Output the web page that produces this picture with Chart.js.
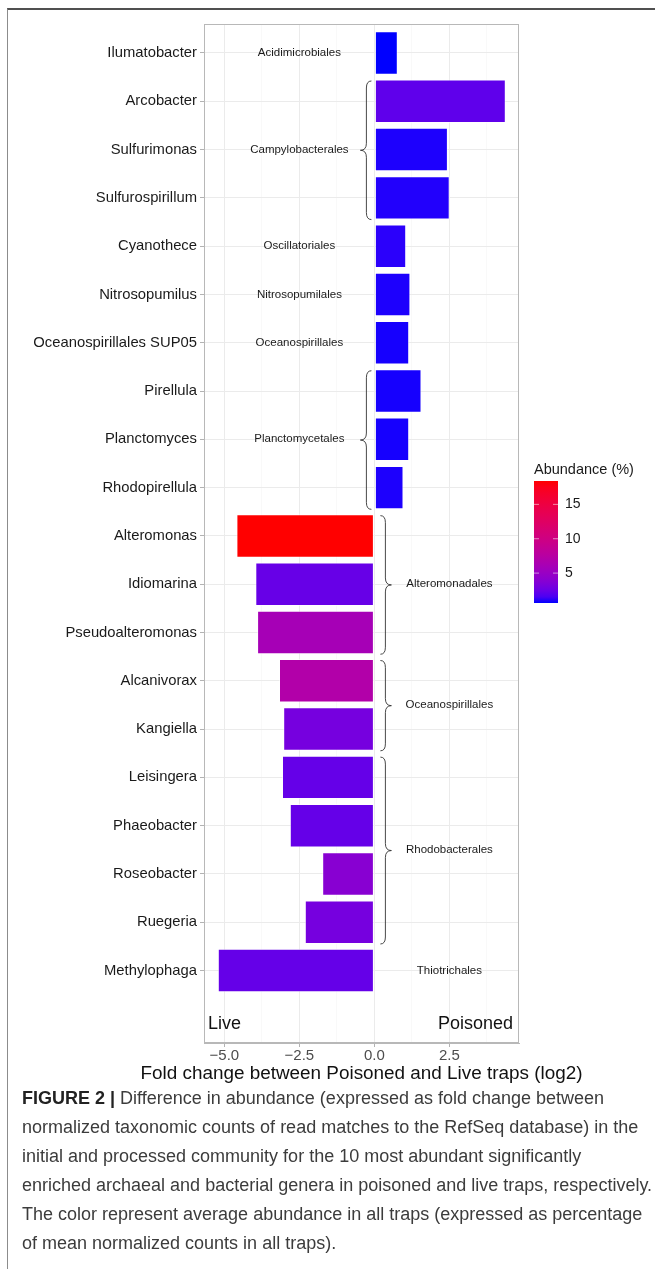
<!DOCTYPE html>
<html>
<head>
<meta charset="utf-8">
<script src="https://cdn.jsdelivr.net/npm/chart.js@4.4.1/dist/chart.umd.min.js"></script>
<style>
  html, body { margin: 0; padding: 0; background: #fff; }
  body { width: 655px; height: 1269px; position: relative; overflow: hidden; font-family: 'Liberation Sans', Arial, sans-serif; }
  #frame { position: absolute; left: 7px; top: 8px; width: 660px; height: 1280px; border-top: 2px solid #505050; border-left: 1.5px solid #8c8c8c; }
  #chart { position: absolute; left: 0; top: 0; }
  #caption { position: absolute; left: 22px; top: 1084px; font-size: 18px; line-height: 29px; color: #3c3c3c; white-space: nowrap; }
  #caption b { color: #222; }
</style>
</head>
<body>
<div id="frame"></div>
<canvas id="chart" width="655" height="1090"></canvas>
<div id="caption">
  <b>FIGURE 2 |</b> Difference in abundance (expressed as fold change between<br>
  normalized taxonomic counts of read matches to the RefSeq database) in the<br>
  initial and processed community for the 10 most abundant significantly<br>
  enriched archaeal and bacterial genera in poisoned and live traps, respectively.<br>
  The color represent average abundance in all traps (expressed as percentage<br>
  of mean normalized counts in all traps).
</div>
<script>
// genera, top to bottom
const genera = [
  'Ilumatobacter', 'Arcobacter', 'Sulfurimonas', 'Sulfurospirillum', 'Cyanothece',
  'Nitrosopumilus', 'Oceanospirillales SUP05', 'Pirellula', 'Planctomyces', 'Rhodopirellula',
  'Alteromonas', 'Idiomarina', 'Pseudoalteromonas', 'Alcanivorax', 'Kangiella',
  'Leisingera', 'Phaeobacter', 'Roseobacter', 'Ruegeria', 'Methylophaga'
];
// log2 fold change (poisoned vs live)
const foldChange = [
  0.78, 4.38, 2.45, 2.51, 1.06,
  1.20, 1.16, 1.57, 1.16, 0.97,
  -4.60, -3.97, -3.91, -3.18, -3.04,
  -3.08, -2.82, -1.74, -2.32, -5.22
];
// mean abundance (%)
const abundance = [
  0.65, 2.1, 0.8, 0.85, 0.95,
  0.8, 0.75, 0.75, 0.75, 0.8,
  18.4, 2.4, 6.0, 7.0, 3.0,
  2.3, 2.3, 3.9, 3.0, 2.3
];
// orders with first / last row (1-based)
const orderNames = ['Acidimicrobiales', 'Campylobacterales', 'Oscillatoriales', 'Nitrosopumilales',
  'Oceanospirillales', 'Planctomycetales', 'Alteromonadales', 'Oceanospirillales',
  'Rhodobacterales', 'Thiotrichales'];
const orderFirst = [1, 2, 5, 6, 7, 8, 11, 14, 16, 20];
const orderLast = [1, 4, 5, 6, 7, 10, 13, 15, 19, 20];
const xMajorTicks = [-5, -2.5, 0, 2.5];
const legendTicks = [5, 10, 15];

const FONT = "'Liberation Sans', Arial, sans-serif";
Chart.defaults.font.family = FONT;

// colour scale blue -> red interpolated in CIELAB (like ggplot)
function toLin(c) { c /= 255; return c <= 0.04045 ? c / 12.92 : Math.pow((c + 0.055) / 1.055, 2.4); }
function fromLin(c) { c = c <= 0.0031308 ? 12.92 * c : 1.055 * Math.pow(c, 1 / 2.4) - 0.055; return Math.round(Math.min(1, Math.max(0, c)) * 255); }
function rgbToLab(rgb) {
  const [r, g, b] = rgb.map(toLin);
  const X = (0.4124 * r + 0.3576 * g + 0.1805 * b) / 0.95047;
  const Y = 0.2126 * r + 0.7152 * g + 0.0722 * b;
  const Z = (0.0193 * r + 0.1192 * g + 0.9505 * b) / 1.08883;
  const f = t => t > 0.008856 ? Math.cbrt(t) : 7.787 * t + 16 / 116;
  const fx = f(X), fy = f(Y), fz = f(Z);
  return [116 * fy - 16, 500 * (fx - fy), 200 * (fy - fz)];
}
function labToRgb(lab) {
  const fy = (lab[0] + 16) / 116, fx = fy + lab[1] / 500, fz = fy - lab[2] / 200;
  const fi = t => t > 0.206893 ? t * t * t : (t - 16 / 116) / 7.787;
  const X = fi(fx) * 0.95047, Y = fi(fy), Z = fi(fz) * 1.08883;
  const r = 3.2406 * X - 1.5372 * Y - 0.4986 * Z;
  const g = -0.9689 * X + 1.8758 * Y + 0.0415 * Z;
  const b = 0.0557 * X - 0.2040 * Y + 1.0570 * Z;
  return [fromLin(r), fromLin(g), fromLin(b)];
}
const labLow = rgbToLab([0, 0, 255]);
const labHigh = rgbToLab([255, 0, 0]);
const aMin = Math.min(...abundance), aMax = Math.max(...abundance);
function fillFor(v) {
  const t = Math.min(1, Math.max(0, (v - aMin) / (aMax - aMin)));
  const lab = labLow.map((c, i) => c + (labHigh[i] - c) * t);
  const rgb = labToRgb(lab);
  return `rgb(${rgb[0]},${rgb[1]},${rgb[2]})`;
}

function brace(ctx, xTip, dir, y0, y1) {
  // dir = -1 tip points left, +1 tip points right
  const xEnd = xTip - dir * 11, xBody = xTip - dir * 6;
  const ym = (y0 + y1) / 2, r = 7;
  ctx.beginPath();
  ctx.moveTo(xEnd, y0);
  ctx.quadraticCurveTo(xBody, y0, xBody, y0 + r);
  ctx.lineTo(xBody, ym - r);
  ctx.quadraticCurveTo(xBody, ym, xTip, ym);
  ctx.quadraticCurveTo(xBody, ym, xBody, ym + r);
  ctx.lineTo(xBody, y1 - r);
  ctx.quadraticCurveTo(xBody, y1, xEnd, y1);
  ctx.stroke();
}

const decor = {
  id: 'decor',
  afterDraw(chart) {
    const { ctx, chartArea: a, scales: { x, y } } = chart;
    ctx.save();
    // panel border
    ctx.strokeStyle = '#b8b8b8';
    ctx.lineWidth = 1;
    ctx.strokeRect(a.left + 0.5, a.top + 0.5, a.right - a.left - 1, a.bottom - a.top - 1);

    // order labels and braces
    const x0 = x.getPixelForValue(0);
    ctx.fillStyle = '#1a1a1a';
    ctx.strokeStyle = '#333';
    ctx.lineWidth = 0.9;
    ctx.font = `11.5px ${FONT}`;
    ctx.textAlign = 'center';
    ctx.textBaseline = 'middle';
    orderNames.forEach((name, i) => {
      const f = orderFirst[i], l = orderLast[i];
      const positive = foldChange[f - 1] > 0;
      const ym = y.getPixelForValue((f + l) / 2);
      ctx.fillText(name, x.getPixelForValue(positive ? -2.5 : 2.5), ym);
      if (l > f) {
        const y0 = y.getPixelForValue(f - 0.42), y1 = y.getPixelForValue(l + 0.45);
        if (positive) brace(ctx, x0 - 14, -1, y0, y1);
        else brace(ctx, x0 + 17, 1, y0, y1);
      }
    });

    // Live / Poisoned
    ctx.font = `18px ${FONT}`;
    ctx.fillStyle = '#111';
    const yl = y.getPixelForValue(21.1);
    ctx.textAlign = 'left';
    ctx.fillText('Live', a.left + 4, yl);
    ctx.textAlign = 'right';
    ctx.fillText('Poisoned', a.right - 6, yl);

    // x axis title (wider than the panel, so drawn here)
    ctx.textAlign = 'center';
    ctx.font = `18.9px ${FONT}`;
    ctx.fillText('Fold change between Poisoned and Live traps (log2)', (a.left + a.right) / 2, 1074);

    // colour bar legend
    const lx = 534, lw = 24, top = 481, bottom = 603;
    ctx.textAlign = 'left';
    ctx.font = `14.5px ${FONT}`;
    ctx.fillStyle = '#1a1a1a';
    ctx.fillText('Abundance (%)', lx, 470);
    const grad = ctx.createLinearGradient(0, bottom, 0, top);
    for (let k = 0; k <= 20; k++) grad.addColorStop(k / 20, fillFor(aMin + (aMax - aMin) * k / 20));
    ctx.fillStyle = grad;
    ctx.fillRect(lx, top, lw, bottom - top);
    ctx.font = `14px ${FONT}`;
    legendTicks.forEach(v => {
      const py = bottom - (v - aMin) / (aMax - aMin) * (bottom - top);
      ctx.strokeStyle = 'rgba(255,255,255,0.6)';
      ctx.beginPath();
      ctx.moveTo(lx, py); ctx.lineTo(lx + 5, py);
      ctx.moveTo(lx + lw - 5, py); ctx.lineTo(lx + lw, py);
      ctx.stroke();
      ctx.fillStyle = '#1a1a1a';
      ctx.fillText(String(v), lx + lw + 7, py);
    });
    ctx.restore();
  }
};

const isMajor = v => xMajorTicks.some(t => Math.abs(t - v) < 1e-6);

new Chart(document.getElementById('chart'), {
  type: 'bar',
  data: {
    datasets: [{
      data: genera.map((g, i) => ({ x: foldChange[i], y: i + 1 })),
      backgroundColor: abundance.map(fillFor),
      borderColor: 'rgba(255,255,255,0.55)',
      borderWidth: 1,
      borderSkipped: false,
      categoryPercentage: 1,
      barPercentage: 0.9
    }]
  },
  options: {
    indexAxis: 'y',
    responsive: false,
    animation: false,
    layout: { padding: { top: 24, right: 136, left: 0, bottom: 0 } },
    plugins: { legend: { display: false }, tooltip: { enabled: false } },
    scales: {
      x: {
        type: 'linear',
        min: -5.68,
        max: 4.82,
        afterFit: s => { s.height = 47; },
        ticks: {
          stepSize: 1.25,
          includeBounds: false,
          autoSkip: false,
          maxRotation: 0,
          padding: 0,
          color: '#4d4d4d',
          font: { size: 15 },
          callback: v => isMajor(v) ? v.toFixed(1).replace('-', '\u2212') : ''
        },
        grid: {
          color: c => isMajor(c.tick.value) ? '#ebebeb' : '#f5f5f5',
          lineWidth: c => isMajor(c.tick.value) ? 1 : 0.6,
          tickLength: 4,
          tickColor: c => isMajor(c.tick.value) ? '#b3b3b3' : 'rgba(0,0,0,0)'
        },
        border: { color: '#b8b8b8' }
      },
      y: {
        type: 'linear',
        reverse: true,
        min: 0.4,
        max: 21.5,
        offset: false,
        afterFit: s => { s.width = 204; },
        afterBuildTicks: s => { s.ticks = genera.map((g, i) => ({ value: i + 1 })); },
        ticks: {
          autoSkip: false,
          padding: 3,
          color: '#1a1a1a',
          font: { size: 14.8 },
          callback: v => genera[v - 1] || ''
        },
        grid: { offset: false, color: '#ebebeb', tickLength: 4, tickColor: '#b3b3b3' },
        border: { color: '#b8b8b8' }
      }
    }
  },
  plugins: [decor]
});
</script>
</body>
</html>
